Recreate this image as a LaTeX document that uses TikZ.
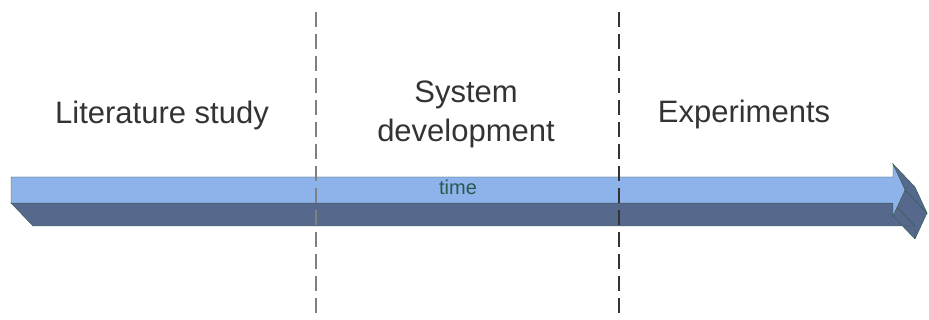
\documentclass[tikz,border=0pt]{standalone}
\usepackage{fontspec}
\setmainfont{Liberation Sans}
\usetikzlibrary{calc}
\definecolor{arrowtop}{RGB}{142,178,234}
\definecolor{arrowside}{RGB}{86,104,140}
\definecolor{arrowedge}{RGB}{45,92,76}
\definecolor{textgray}{RGB}{51,51,51}
\definecolor{timegreen}{RGB}{38,92,80}
\begin{document}
\begin{tikzpicture}[x=1pt,y=-1pt,
  phase/.style={inner sep=0pt,text=textgray,font=\fontsize{31}{39}\selectfont},
  divider/.style={line width=2pt,dash pattern=on 15pt off 7pt}]

\useasboundingbox (0,0) rectangle (929,320);

% side faces of the arrow
\filldraw [thin,draw=arrowedge,fill=arrowside]
  (11,203) -- (893,203) -- ++(22,23) -- (33,226) -- cycle
  (893,203) -- (893,216) -- ++(22,23) -- (915,226) -- cycle
  (905,190) -- (893,216) -- ++(22,23) -- (927,213) -- cycle
  (893,164) -- (905,190) -- ++(22,23) -- (915,187) -- cycle;

% top face
\filldraw [thin,draw=arrowedge,fill=arrowtop]
  (11,177) -- (893,177) -- (893,164) -- (905,190)
  -- (893,216) -- (893,203) -- (11,203) -- cycle;

\node [anchor=base,inner sep=0pt,text=timegreen,font=\fontsize{20}{24}\selectfont]
  (time) at (458,195) {time};

% phase borders
\coordinate (b1top) at (316,12);
\coordinate (b1bot) at (316,320);
\coordinate (b2top) at (619,12);
\coordinate (b2bot) at (619,320);
\draw [divider,draw=black!50] (b1top) -- (b1bot);
\draw [divider,draw=black!80] (b2top) -- (b2bot);

\node [phase,anchor=base] (lit) at (162,124) {Literature study};
\node [phase,align=center] (dev) at (466,114) {System\\development};
\node [phase,anchor=base] (exp) at (744,123) {Experiments};

\end{tikzpicture}
\end{document}
